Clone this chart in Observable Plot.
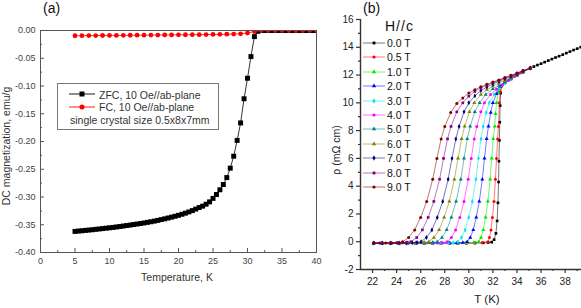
<!DOCTYPE html>
<html><head><meta charset="utf-8">
<script src="https://cdn.jsdelivr.net/npm/d3@7"></script>
<script src="https://cdn.jsdelivr.net/npm/@observablehq/plot@0.6"></script>
<style>
body{margin:0;background:#fff;font-family:"Liberation Sans",Arial,sans-serif;}
#wrap{position:relative;width:581px;height:308px;overflow:hidden;background:#fff;}
#pa{position:absolute;left:0;top:0;}
#pb{position:absolute;left:330px;top:0;}
.t{position:absolute;white-space:nowrap;line-height:1;}
</style></head><body><div id="wrap"><div id="pa"></div><div id="pb"></div></div>
<script>
// ---------- Panel (a) data ----------
const zfcT = [5,5.5,6,6.5,7,7.5,8,8.5,9,9.5,10,10.5,11,11.5,12,12.5,13,13.5,14,14.5,15,15.5,16,16.5,17,17.5,18,18.5,19,19.5,20,20.5,21,21.5,22,22.5,23,23.5,24,24.5,25,25.5,26,26.5,27,27.5,28,28.5,29,29.5,30,30.5,31,31.5,32,32.5,33,33.5,34,34.5,35,35.5,36,36.5,37,37.5,38,38.5,39,39.5,40];
const zfcM = [-0.3620,-0.3614,-0.3608,-0.3602,-0.3596,-0.3590,-0.3583,-0.3576,-0.3569,-0.3562,-0.3555,-0.3548,-0.3540,-0.3532,-0.3523,-0.3514,-0.3505,-0.3496,-0.3487,-0.3478,-0.3468,-0.3457,-0.3446,-0.3434,-0.3421,-0.3407,-0.3393,-0.3378,-0.3363,-0.3347,-0.3330,-0.3311,-0.3291,-0.3269,-0.3245,-0.3218,-0.3190,-0.3165,-0.3130,-0.3088,-0.3025,-0.2955,-0.2870,-0.2775,-0.2650,-0.2480,-0.2265,-0.1980,-0.1665,-0.1230,-0.0860,-0.0470,-0.0110,-0.0015,0,0,0,0,0,0,0,0,0,0,0,0,0,0,0,0,0];
const fcT = [5,6,7,8,9,10,11,12,13,14,15,16,17,18,19,20,21,22,23,24,25,26,27,28,29,30,31,32,33,34,35,36,37,38,39,40];
const fcM = [-0.0095,-0.0093,-0.0092,-0.0091,-0.0090,-0.0089,-0.0088,-0.0087,-0.0086,-0.0085,-0.0084,-0.0083,-0.0082,-0.0080,-0.0079,-0.0078,-0.0077,-0.0076,-0.0075,-0.0073,-0.0071,-0.0069,-0.0067,-0.0064,-0.0060,-0.0045,-0.0020,0,0,0,0,0,0,0,0,0];
const aXTicks = [0,5,10,15,20,25,30,35,40];
const aXMinor = [2.5,7.5,12.5,17.5,22.5,27.5,32.5,37.5];
const aYTicks = [0,-0.05,-0.10,-0.15,-0.20,-0.25,-0.30,-0.35,-0.40];
const aYMinor = [-0.025,-0.075,-0.125,-0.175,-0.225,-0.275,-0.325,-0.375];
const aLegend = ["ZFC, 10 Oe//ab-plane","FC, 10 Oe//ab-plane","single crystal size 0.5x8x7mm"];

// ---------- Panel (b) data ----------
const fields = ["0.0 T","0.5 T","1.0 T","2.0 T","3.0 T","4.0 T","5.0 T","6.0 T","7.0 T","8.0 T","9.0 T"];
const fieldColors = ["#000000","#ff0000","#00e600","#0000ff","#00e8e8","#ff00ff","#008080","#808000","#000080","#800080","#800000"];
const fieldSymbols = ["square","circle","triangle","triangle","diamond","circle","triangle","triangle","diamond","square","circle"];
const b00 = [[22.1,-0.1],[22.8,-0.1],[23.5,-0.1],[24.2,-0.1],[24.9,-0.1],[25.6,-0.1],[26.3,-0.1],[27.0,-0.1],[27.7,-0.1],[28.4,-0.1],[29.1,-0.1],[29.8,-0.1],[30.5,-0.09],[31.2,-0.08],[31.6,-0.06],[31.9,-0.03],[32.1,0.15],[32.25,0.6],[32.35,1.5],[32.42,2.8],[32.47,4.3],[32.5,5.8],[32.54,7.3],[32.57,8.6],[32.6,9.8],[32.64,10.7],[32.7,11.2],[33.0,11.46],[33.5,11.71],[34.0,11.96],[34.5,12.21],[35.1,12.5],[35.4,12.61],[35.7,12.72],[36.0,12.82],[36.3,12.93],[36.6,13.04],[36.9,13.15],[37.2,13.26],[37.5,13.36],[37.8,13.47],[38.1,13.58],[38.4,13.69],[38.7,13.8],[39.0,13.9],[39.3,14.01]];
const b05 = [[22.1,-0.1],[22.8,-0.1],[23.5,-0.1],[24.2,-0.1],[24.9,-0.1],[25.6,-0.1],[26.3,-0.1],[27.0,-0.1],[27.7,-0.1],[28.4,-0.1],[29.1,-0.1],[29.8,-0.1],[30.5,-0.09],[31.1,-0.07],[31.59,0.0],[31.71,0.3],[31.84,0.85],[31.96,1.75],[32.09,2.9],[32.21,4.5],[32.3,6.0],[32.39,7.4],[32.46,8.3],[32.53,10.0],[32.6,10.8],[32.75,11.25],[33.0,11.5],[33.5,11.75],[34.0,11.98],[34.5,12.22],[35.1,12.5]];
const b10 = [[22.1,-0.1],[22.8,-0.1],[23.5,-0.1],[24.2,-0.1],[24.9,-0.1],[25.6,-0.1],[26.3,-0.1],[27.0,-0.1],[27.7,-0.1],[28.4,-0.1],[29.1,-0.1],[29.8,-0.09],[30.4,-0.07],[30.82,0.0],[31.01,0.3],[31.2,0.85],[31.39,1.75],[31.58,2.9],[31.77,4.5],[31.9,6.0],[32.03,7.4],[32.15,8.3],[32.22,9.2],[32.3,10.0],[32.45,10.75],[32.65,11.15],[33.0,11.55],[33.5,11.78],[34.0,12.0],[34.5,12.23],[35.1,12.5]];
const b20 = [[22.1,-0.1],[22.8,-0.1],[23.5,-0.1],[24.2,-0.1],[24.9,-0.1],[25.6,-0.1],[26.3,-0.1],[27.0,-0.1],[27.7,-0.1],[28.4,-0.1],[29.0,-0.09],[29.5,-0.07],[29.87,0.0],[30.12,0.3],[30.37,0.85],[30.62,1.75],[30.87,2.9],[31.12,4.5],[31.3,6.0],[31.48,7.4],[31.63,8.3],[31.82,9.3],[32.0,10.0],[32.3,10.65],[32.6,11.15],[33.0,11.5],[33.5,11.8],[34.0,12.03],[34.5,12.25],[35.1,12.5]];
const b30 = [[22.1,-0.1],[22.8,-0.1],[23.5,-0.1],[24.2,-0.1],[24.9,-0.1],[25.6,-0.1],[26.3,-0.1],[27.0,-0.1],[27.7,-0.1],[28.3,-0.09],[28.7,-0.07],[29.09,0.0],[29.39,0.3],[29.69,0.85],[29.99,1.75],[30.29,2.9],[30.59,4.5],[30.8,6.0],[31.01,7.4],[31.19,8.3],[31.45,9.3],[31.7,10.0],[32.1,10.6],[32.5,11.0],[33.0,11.4],[33.5,11.72],[34.0,12.0],[34.5,12.25],[35.1,12.5]];
const b40 = [[22.1,-0.1],[22.8,-0.1],[23.5,-0.1],[24.2,-0.1],[24.9,-0.1],[25.6,-0.1],[26.3,-0.1],[27.0,-0.1],[27.4,-0.09],[27.8,-0.07],[28.2,0.0],[28.55,0.3],[28.9,0.85],[29.25,1.75],[29.6,2.9],[29.95,4.5],[30.2,6.0],[30.45,7.4],[30.66,8.3],[31.0,9.35],[31.3,10.0],[31.8,10.6],[32.3,10.98],[32.8,11.3],[33.3,11.6],[33.8,11.9],[34.3,12.15],[35.1,12.5]];
const b50 = [[22.1,-0.1],[22.8,-0.1],[23.5,-0.1],[24.2,-0.1],[24.9,-0.1],[25.6,-0.1],[26.3,-0.09],[26.7,-0.08],[27.0,-0.06],[27.38,0.0],[27.77,0.3],[28.16,0.85],[28.55,1.75],[28.94,2.9],[29.33,4.5],[29.6,6.0],[29.87,7.4],[30.11,8.3],[30.5,9.35],[30.9,10.0],[31.4,10.6],[32.0,11.0],[32.5,11.25],[33.0,11.5],[33.5,11.76],[34.0,12.0],[34.5,12.25],[35.1,12.5]];
const b60 = [[22.1,-0.1],[22.8,-0.1],[23.5,-0.1],[24.2,-0.1],[24.9,-0.1],[25.6,-0.09],[26.0,-0.08],[26.3,-0.06],[26.68,0.0],[27.1,0.3],[27.53,0.85],[27.95,1.75],[28.38,2.9],[28.8,4.5],[29.1,6.0],[29.4,7.4],[29.65,8.3],[30.05,9.35],[30.45,10.0],[31.0,10.6],[31.5,10.95],[32.0,11.2],[32.5,11.42],[33.0,11.62],[33.5,11.82],[34.0,12.03],[34.5,12.26],[35.1,12.5]];
const b70 = [[22.1,-0.1],[22.8,-0.1],[23.5,-0.1],[24.2,-0.1],[24.8,-0.09],[25.3,-0.08],[25.7,-0.05],[26.03,0.0],[26.48,0.3],[26.93,0.85],[27.38,1.75],[27.83,2.9],[28.28,4.5],[28.6,6.0],[28.92,7.4],[29.19,8.3],[29.6,9.35],[30.0,10.0],[30.5,10.5],[31.0,10.88],[31.5,11.14],[32.0,11.36],[32.5,11.55],[33.0,11.73],[33.5,11.9],[34.0,12.08],[34.5,12.28],[35.1,12.5]];
const b80 = [[22.1,-0.1],[22.8,-0.1],[23.5,-0.1],[24.1,-0.09],[24.5,-0.08],[24.85,-0.05],[25.19,0.0],[25.67,0.3],[26.14,0.85],[26.62,1.75],[27.09,2.9],[27.57,4.5],[27.9,6.0],[28.23,7.4],[28.52,8.3],[29.0,9.35],[29.5,10.0],[30.0,10.48],[30.5,10.82],[31.0,11.07],[31.5,11.27],[32.0,11.45],[32.5,11.62],[33.0,11.79],[33.5,11.96],[34.0,12.13],[34.5,12.3],[35.1,12.5]];
const b90 = [[22.1,-0.1],[22.6,-0.1],[23.1,-0.1],[23.6,-0.09],[24.0,-0.08],[24.5,0.0],[25.0,0.3],[25.5,0.85],[26.0,1.75],[26.5,2.9],[27.0,4.5],[27.35,6.0],[27.7,7.4],[28.0,8.3],[28.5,9.3],[29.0,9.95],[29.5,10.35],[30.0,10.7],[30.5,10.95],[31.0,11.15],[31.5,11.33],[32.0,11.5],[32.5,11.65],[33.0,11.82],[33.5,11.98],[34.0,12.15],[34.5,12.32],[35.1,12.5]];
const bCurves = [b00,b05,b10,b20,b30,b40,b50,b60,b70,b80,b90];
const bXTicks = [22,24,26,28,30,32,34,36,38];
const bXMinor = [23,25,27,29,31,33,35,37,39];
const bYTicks = [-2,0,2,4,6,8,10,12,14,16];
const bYMinor = [-1,1,3,5,7,9,11,13,15];

const FONT = '"Liberation Sans", Arial, sans-serif';

// ---------- Panel (a) ----------
const zfc = zfcT.map((t,i)=>({T:t, M:zfcM[i]}));
const fc = fcT.map((t,i)=>({T:t, M:fcM[i]}));
const A = {w:330, h:308, l:40, t:30, r:14, b:56};
const aInnerH = A.h - A.t - A.b, aInnerW = A.w - A.l - A.r;
const plotA = Plot.plot({
  width:A.w, height:A.h, marginLeft:A.l, marginTop:A.t, marginRight:A.r, marginBottom:A.b,
  style:{fontFamily:FONT, fontSize:"9px", color:"#333", background:"transparent", overflow:"visible"},
  x:{domain:[0,40]}, y:{domain:[-0.4,0]},
  marks:[
    Plot.tickX(aXTicks,{x:d=>d, insetTop:aInnerH-4, stroke:"#555"}),
    Plot.tickX(aXMinor,{x:d=>d, insetTop:aInnerH-2, stroke:"#555"}),
    Plot.tickY(aYTicks,{y:d=>d, insetRight:aInnerW-4, stroke:"#555"}),
    Plot.tickY(aYMinor,{y:d=>d, insetRight:aInnerW-2, stroke:"#555"}),
    Plot.axisX({ticks:aXTicks, tickSize:0, tickPadding:5, label:null, tickFormat:d=>String(d), fill:"#444"}),
    Plot.axisY({ticks:aYTicks, tickSize:0, tickPadding:5, label:null, tickFormat:d=>d.toFixed(2), fill:"#444"}),
    Plot.line(zfc,{x:"T", y:"M", stroke:"#000", strokeWidth:0.8, clip:true}),
    Plot.dot(zfc,{x:"T", y:"M", symbol:"square", r:2.8, fill:"#000", stroke:"none", clip:true}),
    Plot.line(fc,{x:"T", y:"M", stroke:"#ff0000", strokeWidth:0.8, clip:true}),
    Plot.dot(fc,{x:"T", y:"M", symbol:"circle", r:2.4, fill:"#ff0000", stroke:"none", clip:true}),
    Plot.frame({stroke:"#555", strokeWidth:1})
  ]
});
document.getElementById("pa").appendChild(plotA);

// ---------- Panel (b) ----------
const B = {w:251, h:308, l:30, t:19, r:0, b:39};
const bMarks = [
  Plot.ruleY([-2],{stroke:"#333", strokeWidth:1.4}),
  Plot.ruleX([21],{stroke:"#333", strokeWidth:1.4}),
  Plot.axisX({ticks:bXTicks, tickSize:4, tickPadding:4, label:null, tickFormat:d=>String(d), stroke:"#333", strokeWidth:1.2, fill:"#222"}),
  Plot.axisX({ticks:bXMinor, tickSize:2, tickFormat:()=>"", label:null, stroke:"#333", strokeWidth:1.2}),
  Plot.axisY({ticks:bYTicks, tickSize:4, tickPadding:3, label:null, tickFormat:d=>String(d), stroke:"#333", strokeWidth:1.2, fill:"#222"}),
  Plot.axisY({ticks:bYMinor, tickSize:2, tickFormat:()=>"", label:null, stroke:"#333", strokeWidth:1.2})
];
bCurves.forEach((c,i)=>{
  const rows = c.map(([T,rho])=>({T, rho}));
  bMarks.push(Plot.line(rows,{x:"T", y:"rho", stroke:fieldColors[i], strokeWidth:0.9, strokeOpacity:0.6}));
  bMarks.push(Plot.dot(rows,{x:"T", y:"rho", symbol:fieldSymbols[i], r:1.5, fill:fieldColors[i], stroke:"none"}));
});
const plotB = Plot.plot({
  width:B.w, height:B.h, marginLeft:B.l, marginTop:B.t, marginRight:B.r, marginBottom:B.b,
  style:{fontFamily:FONT, fontSize:"10px", color:"#222", background:"transparent", overflow:"visible"},
  x:{domain:[21,39.36]}, y:{domain:[-2,16]},
  marks:bMarks
});
document.getElementById("pb").appendChild(plotB);

// ---------- text & legends ----------
const wrap = document.getElementById("wrap");
function addText(txt, x, y, o={}) {
  const d = document.createElement("div");
  d.className = "t";
  d.textContent = txt;
  d.style.left = x+"px"; d.style.top = y+"px";
  d.style.fontSize = (o.size||10)+"px";
  d.style.color = o.color||"#222";
  if (o.spacing) d.style.letterSpacing = o.spacing+"px";
  const tx = o.anchor==="middle"?"-50%":o.anchor==="end"?"-100%":"0";
  d.style.transform = `translate(${tx},-50%)` + (o.rotate?` rotate(${o.rotate}deg)`:"");
  wrap.appendChild(d);
  return d;
}
addText("(a)", 43, 8, {size:14, color:"#111"});
addText("(b)", 363, 8, {size:14, color:"#111"});
addText("DC magnetization, emu/g", 6, 146, {size:10.5, anchor:"middle", rotate:-90, color:"#333"});
addText("Temperature, K", 177, 277, {size:10.5, anchor:"middle", color:"#333"});
addText("ρ (mΩ cm)", 336, 150, {size:10.5, anchor:"middle", rotate:-90, color:"#222"});
addText("T (K)", 487, 300, {size:11.5, anchor:"middle", color:"#222"});

// panel (a) legend
const box = document.createElement("div");
box.style.cssText = "position:absolute;left:57px;top:83px;width:160px;height:45px;border:1px solid #777;background:#fff;";
wrap.appendChild(box);
function sampleSvg(color, symbol, size, w, lineOpacity) {
  const ns = "http://www.w3.org/2000/svg";
  const s = document.createElementNS(ns,"svg");
  s.setAttribute("width", w); s.setAttribute("height", 10);
  const l = document.createElementNS(ns,"line");
  l.setAttribute("x1",0); l.setAttribute("x2",w); l.setAttribute("y1",5); l.setAttribute("y2",5);
  l.setAttribute("stroke",color); l.setAttribute("stroke-width",0.9); l.setAttribute("stroke-opacity",lineOpacity);
  s.appendChild(l);
  const p = document.createElementNS(ns,"path");
  const symMap = {square:d3.symbolSquare, circle:d3.symbolCircle, triangle:d3.symbolTriangle, diamond:d3.symbolDiamond};
  p.setAttribute("d", d3.symbol(symMap[symbol], size)());
  p.setAttribute("transform", `translate(${w/2},5)`);
  p.setAttribute("fill", color);
  s.appendChild(p);
  return s;
}
function place(el, x, y) {
  el.style.position = "absolute"; el.style.left = x+"px"; el.style.top = y+"px";
  wrap.appendChild(el);
}
place(sampleSvg("#000","square",25,26,1), 69, 89);
place(sampleSvg("#ff0000","circle",20,26,1), 69, 102);
addText(aLegend[0], 99, 94.5, {size:10.5, color:"#333"});
addText(aLegend[1], 99, 107, {size:10.5, color:"#333"});
addText(aLegend[2], 70, 120, {size:10.5, color:"#333"});

// panel (b) legend
addText("H//c", 385, 26, {size:14, color:"#111", spacing:1});
fields.forEach((f,i)=>{
  const y = 43 + i*14.4;
  place(sampleSvg(fieldColors[i], fieldSymbols[i], 8, 22, 0.6), 363, y-5);
  addText(f, 387, y, {size:10.5, color:"#111"});
});
</script>
</body></html>
